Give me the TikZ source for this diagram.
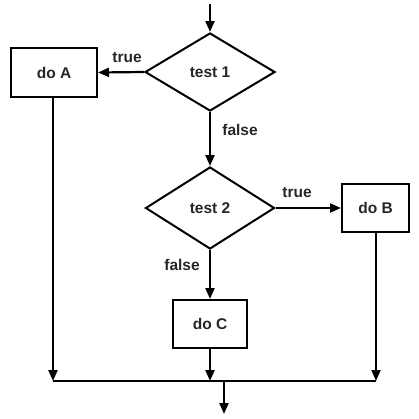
\documentclass[tikz,border=0pt]{standalone}
\usepackage{fontspec}
\setmainfont{Liberation Sans}
\usetikzlibrary{shapes.geometric,arrows.meta}
\begin{document}
\begin{tikzpicture}[x=1pt,y=-1pt,
  every node/.style={font=\fontsize{15.5}{17}\selectfont\bfseries, text=black!85},
  box/.style={draw=black, line width=2pt, inner sep=0pt},
  dia/.style={draw=black, line width=2pt, shape=diamond, inner sep=0pt},
  conn/.style={line width=2.2pt, -{Triangle[length=11pt,width=9pt]}},
  lbl/.style={inner sep=0pt}]
\useasboundingbox (0,0) rectangle (419,418);
\node[dia, minimum width=130pt, minimum height=78pt] (t1) at (210,72) {test 1};
\node[box, minimum width=86pt, minimum height=49pt] (A) at (54,72.5) {do A};
\node[dia, minimum width=129pt, minimum height=82pt] (t2) at (210,208) {test 2};
\node[box, minimum width=67pt, minimum height=48pt] (B) at (375.5,208) {do B};
\node[box, minimum width=74pt, minimum height=48pt] (C) at (210,324) {do C};
\coordinate (start) at (210,4);
\coordinate (jA) at (53,381);
\coordinate (jC) at (210,381);
\coordinate (jB) at (376,381);
\coordinate (out0) at (224,381);
\coordinate (out1) at (224,414);
\draw[conn] (start) -- (t1.north);
\draw[conn] (t1.west) -- (A.east);
\node[lbl] (l1) at (127,58) {true};
\draw[conn] (t1.south) -- (t2.north);
\node[lbl] (l2) at (240,130) {false};
\draw[conn] (t2.east) -- (B.west);
\node[lbl] (l3) at (297,193) {true};
\draw[conn] (t2.south) -- (C.north);
\node[lbl] (l4) at (182,265) {false};
\draw[conn] (A.south -| jA) -- (jA);
\draw[conn] (C.south) -- (jC);
\draw[conn] (B.south -| jB) -- (jB);
\draw[line width=2.2pt] (jA) -- (jB);
\draw[conn] (out0) -- (out1);
\end{tikzpicture}
\end{document}
